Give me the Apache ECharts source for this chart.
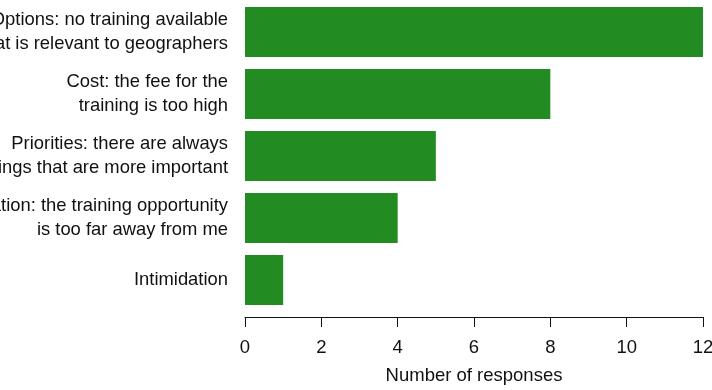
<!DOCTYPE html>
<html>
<head>
    <meta charset="UTF-8">
    <title>Barriers to training</title>
    <script type="text/javascript" src="https://cdn.jsdelivr.net/npm/echarts@6/dist/echarts.min.js"></script>
    <style type="text/css">
        html, body { margin: 0; padding: 0; background: #fff; }
        #chart { width: 712px; height: 390px; }
    </style>
</head>
<body>
<div id="chart"></div>
<script type="text/javascript">
    // categories, top to bottom
    var reasons = [
        'Options: no training available\nthat is relevant to geographers',
        'Cost: the fee for the\ntraining is too high',
        'Priorities: there are always\nthings that are more important',
        'Location: the training opportunity\nis too far away from me',
        'Intimidation'
    ];
    var responses = [12, 8, 5, 4, 1];
    var xTicks = [0, 2, 4, 6, 8, 10, 12];

    var chart = echarts.init(document.getElementById('chart'));
    chart.setOption({
        animation: false,
        textStyle: {fontFamily: 'Liberation Sans, Arial, sans-serif'},
        grid: {left: 245, right: 9, top: 1, height: 310, containLabel: false, outerBoundsMode: 'none'},
        xAxis: {
            type: 'value',
            min: xTicks[0],
            max: xTicks[xTicks.length - 1],
            interval: 2,
            offset: 6,
            name: 'Number of responses',
            nameLocation: 'middle',
            nameGap: 49,
            nameTextStyle: {fontSize: 18.5, color: '#111'},
            axisLine: {show: true, lineStyle: {color: '#111', width: 1}},
            axisTick: {show: true, length: 10, lineStyle: {color: '#111'}},
            axisLabel: {fontSize: 18.5, color: '#111', margin: 21, hideOverlap: false},
            splitLine: {show: false}
        },
        yAxis: {
            type: 'category',
            data: reasons,
            inverse: true,
            axisLine: {show: false},
            axisTick: {show: false},
            axisLabel: {fontSize: 18.4, color: '#111', margin: 17, lineHeight: 23.5, align: 'right'}
        },
        series: [{
            type: 'bar',
            data: responses,
            barCategoryGap: '19%',
            itemStyle: {color: '#228B22'}
        }]
    });
</script>
</body>
</html>
